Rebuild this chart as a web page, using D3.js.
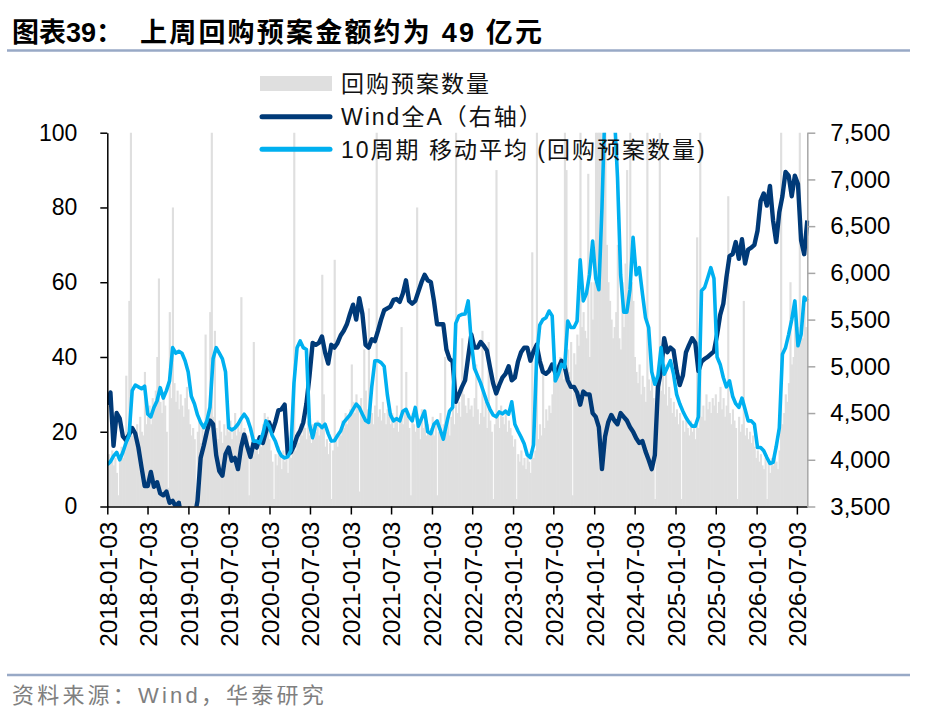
<!DOCTYPE html>
<html lang="zh-CN">
<head>
<meta charset="utf-8">
<title>回购预案</title>
<script src="https://d3js.org/d3.v7.min.js"></script>
<style>
  body { margin: 0; background: #fff; }
</style>
</head>
<body>
<div id="chart"></div>
<script>

// weekly number of buyback plans (left axis), one value per week from 2018-01-03
const repoCount = [
  10, 14, 12, 15, 11, 13, 9, 3, 12, 16, 13, 18, 35, 17, 55, 140, 19, 21, 18, 22, 16, 24, 20, 19, 36, 22,
  24, 27, 22, 29, 26, 31, 40, 61, 28, 25, 30, 27, 20, 5, 52, 29, 80, 33, 28, 31, 26, 30, 27, 24, 29, 32,
  26, 22, 19, 21, 18, 4, 20, 23, 17, 21, 19, 46, 22, 20, 52, 190, 24, 47, 21, 18, 23, 20, 17, 22, 19, 21,
  20, 23, 18, 21, 25, 19, 22, 20, 56, 18, 21, 17, 19, 3, 16, 18, 44, 15, 17, 14, 19, 16, 22, 25, 20, 24,
  18, 15, 12, 2, 14, 11, 16, 13, 10, 15, 12, 14, 9, 16, 13, 18, 300, 15, 20, 17, 22, 19, 24, 21, 18, 23,
  19, 17, 22, 18, 20, 23, 19, 21, 62, 30, 16, 18, 14, 17, 2, 15, 66, 18, 16, 20, 19, 23, 21, 25, 22, 24,
  26, 38, 28, 25, 30, 27, 4, 29, 24, 42, 31, 26, 53, 28, 25, 22, 27, 140, 24, 26, 23, 28, 25, 22, 26, 24,
  22, 25, 21, 24, 27, 20, 23, 48, 22, 26, 36, 24, 21, 3, 25, 22, 20, 80, 23, 18, 26, 21, 24, 19, 22, 20,
  21, 24, 19, 23, 3, 20, 25, 18, 22, 40, 20, 23, 19, 24, 27, 22, 260, 25, 28, 24, 45, 30, 27, 25, 29, 26,
  27, 24, 29, 38, 26, 22, 25, 47, 24, 28, 21, 44, 23, 20, 2, 22, 90, 25, 21, 27, 24, 22, 26, 20, 23, 21,
  19, 16, 18, 2, 14, 12, 15, 11, 13, 10, 14, 12, 9, 68, 13, 15, 340, 18, 22, 19, 38, 21, 26, 23, 27, 25,
  30, 36, 33, 38, 35, 40, 37, 34, 140, 90, 42, 36, 44, 3, 41, 38, 46, 43, 300, 48, 52, 47, 45, 89, 40, 60,
  50, 60, 170, 450, 200, 180, 90, 140, 130, 70, 60, 55, 50, 45, 48, 52, 70, 45, 42, 60, 48, 65, 90, 55, 130, 60,
  55, 40, 36, 33, 38, 30, 35, 32, 28, 110, 34, 31, 36, 29, 2, 33, 37, 100, 31, 35, 30, 38, 27, 32, 29, 25,
  28, 24, 26, 22, 25, 2, 23, 20, 24, 21, 19, 23, 20, 22, 18, 72, 21, 380, 24, 27, 23, 30, 26, 28, 25, 29,
  27, 30, 25, 28, 32, 26, 29, 24, 27, 83, 25, 22, 26, 23, 21, 2, 24, 20, 22, 55, 19, 21, 18, 20, 17, 19,
  16, 13, 15, 12, 14, 11, 10, 13, 2, 12, 9, 13, 11, 14, 12, 10, 15, 280, 22, 25, 30, 28, 33, 60, 38, 40,
  50, 45, 48, 140, 50, 45, 55, 48
];

// Wind全A index (right axis), one value every two weeks from 2018-01-03
const windA = [
  4590, 4720, 4150, 4500, 4440, 4250, 4210, 4270, 4340, 4280, 4130, 3920, 3720,
  3720, 3870, 3710, 3760, 3640, 3620, 3660, 3540, 3560, 3500, 3540, 3350, 3250,
  3250, 3280, 3380, 3560, 4020, 4150, 4300, 4420, 4380, 4050, 3880, 3830, 4060,
  4130, 3990, 4020, 3900, 4130, 4270, 4140, 4030, 4180, 4130, 4240, 4180, 4300,
  4400, 4300, 4400, 4530, 4540, 4590, 4060, 4080, 4150, 4250, 4310, 4400, 4600,
  4900, 5250, 5230, 5250, 5320, 5150, 5030, 5230, 5200, 5250, 5330, 5380, 5450,
  5560, 5660, 5500, 5730, 5560, 5230, 5200, 5290, 5270, 5380, 5500, 5600, 5620,
  5640, 5710, 5720, 5690, 5780, 5920, 5700, 5670, 5700, 5800, 5900, 5980, 5920,
  5900, 5700, 5450, 5450, 5450, 5180, 5080, 5050, 4620, 4700, 4780, 4850, 5100,
  5340, 5200, 5200, 5260, 5220, 5170, 4990, 4820, 4710, 4800, 4880, 4920, 5000, 4850,
  4880, 5050, 5150, 5200, 5200, 5060, 5160, 5230, 5060, 4940, 4920, 4950, 5020,
  4930, 4980, 5060, 5000, 4850, 4780, 4780, 4720, 4590, 4730, 4700, 4700, 4500,
  4460, 4350, 3900, 4250, 4400, 4480, 4420, 4380, 4500, 4460, 4420, 4350, 4300,
  4230, 4180, 4200, 4090, 4000, 3900, 4050, 4780, 4950, 5300, 5150, 5200, 5170,
  4950, 4800, 4900, 5150, 5230, 5300, 5250, 4950, 5050, 5080, 5100, 5130, 5160,
  5340, 5550, 5670, 5950, 6180, 6200, 6330, 6150, 6360, 6100, 6250, 6270, 6300,
  6450, 6770, 6850, 6720, 6930, 6560, 6330, 6650, 6820, 7080, 7040, 6820, 7040,
  6950, 6350, 6200, 6560
];

// 10-week moving average of the plan count (left axis), same dates as windA
const ma10 = [
  11.2, 12, 13.5, 14.5, 12.5, 14.5, 17, 19, 31, 32.5, 32, 31.5, 32.2,
  24.7, 24, 26.5, 28.3, 31.8, 29, 31, 33.6, 42.5, 41, 41.5, 41, 39,
  36, 29.5, 27.5, 24.5, 22.5, 21.1, 22.9, 26.5, 39.5, 42.5, 41, 39.5, 36,
  21.1, 20.5, 21, 22, 23.5, 24.7, 23.5, 21, 17.5, 17.5, 17, 19.5, 22.9,
  21.5, 19, 17.5, 15, 13.5, 13, 13.3, 15, 33, 42.5, 44.3, 42.5, 42,
  22, 18.4, 22, 22, 21.1, 22, 19.5, 17.5, 17.6, 19, 20.2, 22.5, 23.5,
  24.5, 26, 27.4, 26.5, 24.7, 23, 22.5, 32, 39, 39, 38.5, 37.5, 30,
  24.5, 22.9, 23.5, 22.9, 25.5, 26, 24, 22.9, 26.5, 21.5, 23.5, 25.5, 20,
  19.5, 22, 22.9, 20.5, 18, 22, 25.5, 26.5, 49, 51, 51.4, 51.5, 55,
  44, 37, 35, 33, 30.5, 28, 26, 24.5, 24, 25.3, 24.8, 25.5, 24.7, 28,
  22, 20.2, 18.6, 16.8, 13.8, 13.1, 16.5, 40, 48.5, 50, 50.5, 52.3, 51,
  33.6, 35.4, 38, 37.2, 49.6, 47.9, 47.9, 49.6, 66, 55, 57, 62, 71,
  61, 58, 80, 108, 125, 120, 105, 88, 62, 52, 52, 58, 72,
  62, 63.9, 57, 50.5, 47.9, 36, 32.7, 35, 42.5, 35.4, 37.2, 39, 35.4,
  30, 27.5, 25.5, 23.8, 22.5, 21.5, 21.5, 24, 57.7, 58.6, 61.2, 63.9, 61,
  40, 38, 34.5, 32, 33.6, 29.5, 27.5, 26.5, 29, 26, 22.9, 22.9, 22,
  15.8, 15.8, 14.9, 13.1, 11.5, 11.8, 16, 21, 40.7, 42.5, 46, 50, 55,
  43, 46, 56, 55
];

const leftTicks = [0, 20, 40, 60, 80, 100];
const rightTicks = [3500, 4000, 4500, 5000, 5500, 6000, 6500, 7000, 7500];
const dateTicks = [
  "2018-01-03", "2018-07-03", "2019-01-03", "2019-07-03", "2020-01-03", "2020-07-03",
  "2021-01-03", "2021-07-03", "2022-01-03", "2022-07-03", "2023-01-03", "2023-07-03",
  "2024-01-03", "2024-07-03", "2025-01-03", "2025-07-03", "2026-01-03", "2026-07-03"
];
const legendLabels = ["回购预案数量", "Wind全A（右轴）", "10周期 移动平均 (回购预案数量)"];
const titleHead = "图表39：";
const titleText = "上周回购预案金额约为 49 亿元";
const sourceText = "资料来源：Wind，华泰研究";

const latin = '"Liberation Sans", Arial, "Noto Sans CJK SC", sans-serif';
const barColor = "#dfdfdf", navy = "#003a78", sky = "#00b0f0";

// set the dimensions and margins of the graph
const W = 934, H = 718;
const margin = {top: 132.7, right: 126.7, bottom: 211.5, left: 107.3},
    width = W - margin.left - margin.right,
    height = H - margin.top - margin.bottom;

const svg = d3.select("#chart")
  .append("svg")
    .attr("width", W)
    .attr("height", H)
    .style("font-family", latin);

// title and rules
svg.append("text")
    .attr("x", 12).attr("y", 42)
    .attr("font-size", 27).attr("font-weight", "bold")
    .text(titleHead);
svg.append("text")
    .attr("x", 140).attr("y", 42)
    .attr("font-size", 27).attr("font-weight", "bold")
    .style("letter-spacing", "2.2px")
    .text(titleText);
svg.append("line").attr("x1", 7).attr("x2", 910).attr("y1", 50.5).attr("y2", 50.5)
    .attr("stroke", "#98a9c6").attr("stroke-width", 2.5);
svg.append("line").attr("x1", 7).attr("x2", 910).attr("y1", 675).attr("y2", 675)
    .attr("stroke", "#98a9c6").attr("stroke-width", 2.5);
svg.append("text")
    .attr("x", 12).attr("y", 695).attr("dy", "0.35em")
    .attr("font-size", 22).attr("fill", "#7f7f7f")
    .style("letter-spacing", "3.2px")
    .text(sourceText);

const g = svg.append("g")
    .attr("transform", `translate(${margin.left}, ${margin.top})`);

// scales
const parse = d3.utcParse("%Y-%m-%d");
const start = parse("2018-01-03");
const x = d3.scaleUtc()
    .domain([start, parse("2026-08-19")])
    .range([0, width]);
const yL = d3.scaleLinear().domain([0, 100]).range([height, 0]);
const yR = d3.scaleLinear().domain([3500, 7500]).range([height, 0]);

const weeks = repoCount.map((v, i) => ({date: d3.utcDay.offset(start, 7 * i), v: v}));
const fortnights = windA.map((v, i) => ({date: d3.utcDay.offset(start, 14 * i), w: v, m: ma10[i]}));

g.append("clipPath").attr("id", "plot")
  .append("rect").attr("x", 0).attr("y", 0).attr("width", width + 2).attr("height", height);

const plot = g.append("g").attr("clip-path", "url(#plot)");

// bars
const bw = x(d3.utcDay.offset(start, 7)) - x(start);
plot.append("g")
  .selectAll("rect")
  .data(weeks)
  .join("rect")
    .attr("x", d => x(d.date) - bw / 2)
    .attr("width", bw + 0.6)
    .attr("y", d => yL(d.v))
    .attr("height", d => height - yL(d.v))
    .attr("fill", barColor);

// lines
plot.append("path")
    .datum(fortnights)
    .attr("fill", "none")
    .attr("stroke", navy)
    .attr("stroke-width", 4.4)
    .attr("stroke-linejoin", "round")
    .attr("d", d3.line().x(d => x(d.date)).y(d => yR(d.w)));

plot.append("path")
    .datum(fortnights)
    .attr("fill", "none")
    .attr("stroke", sky)
    .attr("stroke-width", 3.6)
    .attr("stroke-linejoin", "round")
    .attr("d", d3.line().x(d => x(d.date)).y(d => yL(d.m)));

// Add X axis
const xAxis = g.append("g")
    .attr("transform", `translate(0, ${height})`)
    .call(d3.axisBottom(x)
      .tickValues(dateTicks.map(parse))
      .tickFormat(d3.utcFormat("%Y-%m-%d"))
      .tickSize(8).tickSizeOuter(0));
xAxis.selectAll("text")
    .attr("transform", "rotate(-90)")
    .attr("x", -15).attr("y", 0).attr("dy", "0.36em")
    .style("text-anchor", "end");

// Add Y axes
const yAxisL = g.append("g")
    .call(d3.axisLeft(yL).tickValues(leftTicks).tickSize(7).tickPadding(23).tickSizeOuter(0));
const yAxisR = g.append("g")
    .attr("transform", `translate(${width}, 0)`)
    .call(d3.axisRight(yR).tickValues(rightTicks).tickFormat(d3.format(","))
      .tickSize(8).tickPadding(15).tickSizeOuter(0));

[xAxis, yAxisL, yAxisR].forEach(a => a.attr("font-family", latin).attr("font-size", 23));
xAxis.attr("font-size", 24.5);
yAxisR.attr("font-size", 24);
xAxis.selectAll("path, line").attr("stroke", "#000").attr("stroke-width", 1.5);
yAxisL.selectAll("path, line").attr("stroke", "#000").attr("stroke-width", 1.5);
yAxisR.selectAll("path, line").attr("stroke", "#a6a6a6").attr("stroke-width", 1.5);
g.selectAll(".tick text").attr("fill", "#000");

// legend
const legend = svg.append("g").attr("font-size", 23).style("letter-spacing", "2px");
legend.append("rect")
    .attr("x", 260).attr("y", 76).attr("width", 72).attr("height", 15)
    .attr("fill", barColor);
[[navy, 116.7], [sky, 149.3]].forEach(([c, yy]) => {
  legend.append("line")
      .attr("x1", 262).attr("x2", 330).attr("y1", yy).attr("y2", yy)
      .attr("stroke", c).attr("stroke-width", 5).attr("stroke-linecap", "round");
});
legend.selectAll("text.lab")
  .data(legendLabels)
  .join("text")
    .attr("class", "lab")
    .attr("x", 341)
    .attr("y", (d, i) => [83.5, 116.7, 149.3][i])
    .attr("dy", "0.36em")
    .attr("fill", "#111")
    .text(d => d);

</script>
</body>
</html>
